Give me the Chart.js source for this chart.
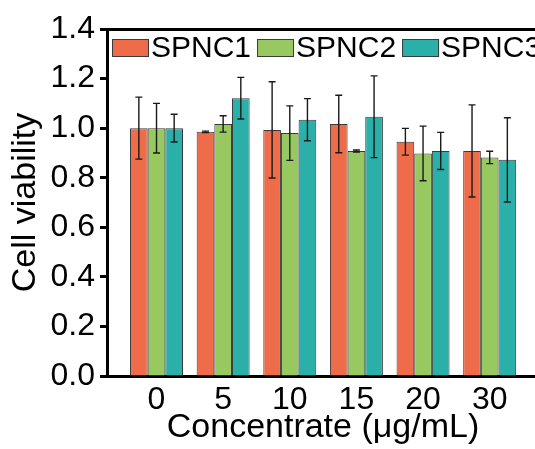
<!DOCTYPE html>
<html>
<head>
<meta charset="utf-8">
<script src="https://cdn.jsdelivr.net/npm/chart.js@4/dist/chart.umd.min.js"></script>
<style>
  html, body { margin: 0; padding: 0; background: #fff; overflow: hidden; }
  #wrap { position: relative; width: 560px; height: 449px; }
</style>
</head>
<body>
<div id="wrap"><canvas id="viability"></canvas></div>
<script>
// ── Cell viability per concentration ──
const CATEGORIES = ['0', '5', '10', '15', '20', '30'];
const SERIES     = ['SPNC1', 'SPNC2', 'SPNC3'];

const SPNC1     = [1.000, 0.985, 0.993, 1.017, 0.945, 0.908];
const SPNC1_ERR = [0.125, 0.003, 0.194, 0.116, 0.054, 0.186];
const SPNC2     = [1.000, 1.017, 0.980, 0.908, 0.898, 0.882];
const SPNC2_ERR = [0.100, 0.033, 0.110, 0.004, 0.110, 0.025];
const SPNC3     = [1.000, 1.121, 1.034, 1.046, 0.908, 0.872];
const SPNC3_ERR = [0.056, 0.084, 0.085, 0.165, 0.075, 0.170];

const Y_TICKS = [0, 0.2, 0.4, 0.6, 0.8, 1.0, 1.2, 1.4];

const COLORS = ['#ee6c4a', '#97c960', '#2ab0a9'];
const EDGE   = '#3a3a3a';
const FONT   = '"Liberation Sans", Arial, Helvetica, sans-serif';

Chart.defaults.font.family = FONT;
Chart.defaults.color = '#000';

function toPoints(values) {
  return values.map(function(v, i) { return { x: i, y: v }; });
}

// ── Error bars: vertical whisker with caps, centred on each bar ──
const errorBars = {
  id: 'errorBars',
  afterDatasetsDraw: function(chart) {
    var ctx = chart.ctx;
    var yScale = chart.scales.y;
    ctx.save();
    ctx.strokeStyle = '#1a1a1a';
    ctx.lineWidth = 1.4;
    chart.data.datasets.forEach(function(ds, i) {
      var meta = chart.getDatasetMeta(i);
      meta.data.forEach(function(bar, j) {
        var v = ds.data[j].y;
        var e = ds.errors[j];
        var top = yScale.getPixelForValue(v + e);
        var bot = yScale.getPixelForValue(v - e);
        var cap = 3.5;
        ctx.beginPath();
        ctx.moveTo(bar.x, top);
        ctx.lineTo(bar.x, bot);
        ctx.moveTo(bar.x - cap, top);
        ctx.lineTo(bar.x + cap, top);
        ctx.moveTo(bar.x - cap, bot);
        ctx.lineTo(bar.x + cap, bot);
        ctx.stroke();
      });
    });
    ctx.restore();
  },
};

// ── Legend drawn inside the plot, top-left, boxes tight to text ──
const innerLegend = {
  id: 'innerLegend',
  afterDraw: function(chart) {
    var ctx = chart.ctx;
    var area = chart.chartArea;
    var x = area.left + 5;
    var y = area.top + 10;
    ctx.save();
    ctx.font = '30px ' + FONT;
    ctx.textBaseline = 'middle';
    ctx.textAlign = 'left';
    chart.data.datasets.forEach(function(ds) {
      ctx.fillStyle = ds.backgroundColor;
      ctx.fillRect(x, y, 37, 18);
      ctx.strokeStyle = EDGE;
      ctx.lineWidth = 1;
      ctx.strokeRect(x + 0.5, y + 0.5, 36, 17);
      ctx.fillStyle = '#000';
      ctx.fillText(ds.label, x + 39, y + 9.5);
      x += 39 + ctx.measureText(ds.label).width + 6;
    });
    ctx.restore();
  },
};

const ctx = document.getElementById('viability').getContext('2d');

new Chart(ctx, {
  type : 'bar',
  data : {
    datasets : [SPNC1, SPNC2, SPNC3].map(function(values, i) {
      return {
        label              : SERIES[i],
        data               : toPoints(values),
        errors             : [SPNC1_ERR, SPNC2_ERR, SPNC3_ERR][i],
        backgroundColor    : COLORS[i],
        borderColor        : EDGE,
        borderWidth        : 1,
        categoryPercentage : 0.795,
        barPercentage      : 1.0,
      };
    }),
  },
  options : {
    responsive          : true,
    maintainAspectRatio : false,
    animation           : false,
    layout : { padding: { left: 0, top: 0, right: 21, bottom: 0 } },
    plugins : {
      legend  : { display: false },
      tooltip : { enabled: false },
    },
    scales : {
      x : {
        type   : 'linear',
        offset : false,
        min    : -0.743,
        max    : 5.74,
        afterFit : function(s) { s.height = 73; },
        afterBuildTicks : function(s) {
          s.ticks = CATEGORIES.map(function(_, i) { return { value: i }; });
        },
        grid   : { display: false, drawTicks: false, offset: false },
        border : { display: true, color: '#000', width: 3 },
        ticks  : {
          padding  : 5,
          font     : { size: 32 },
          color    : '#000',
          callback : function(value) { return CATEGORIES[value]; },
        },
        title : {
          display : true,
          text    : 'Concentrate (μg/mL)',
          font    : { size: 34 },
          color   : '#000',
          padding : { top: 0, bottom: 1 },
        },
      },
      xTop : {
        type     : 'linear',
        position : 'top',
        min      : -0.743,
        max      : 5.74,
        afterFit : function(s) { s.height = 29; },
        grid     : { display: false, drawTicks: false },
        border   : { display: true, color: '#000', width: 3 },
        ticks    : { display: false },
      },
      y : {
        min      : 0,
        max      : 1.4,
        afterFit : function(s) { s.width = 107; },
        afterBuildTicks : function(s) {
          s.ticks = Y_TICKS.map(function(v) { return { value: v }; });
        },
        grid : {
          drawOnChartArea : false,
          drawTicks       : true,
          tickLength      : 7,
          tickWidth       : 3,
          tickColor       : '#000',
        },
        border : { display: true, color: '#000', width: 3 },
        ticks  : {
          padding  : 5,
          font     : { size: 32 },
          color    : '#000',
          callback : function(value) { return value.toFixed(1); },
        },
        title : {
          display : true,
          text    : 'Cell viability',
          font    : { size: 34 },
          color   : '#000',
          padding : { top: 5, bottom: 0 },
        },
      },
    },
  },
  plugins : [errorBars, innerLegend],
});
</script>
</body>
</html>
